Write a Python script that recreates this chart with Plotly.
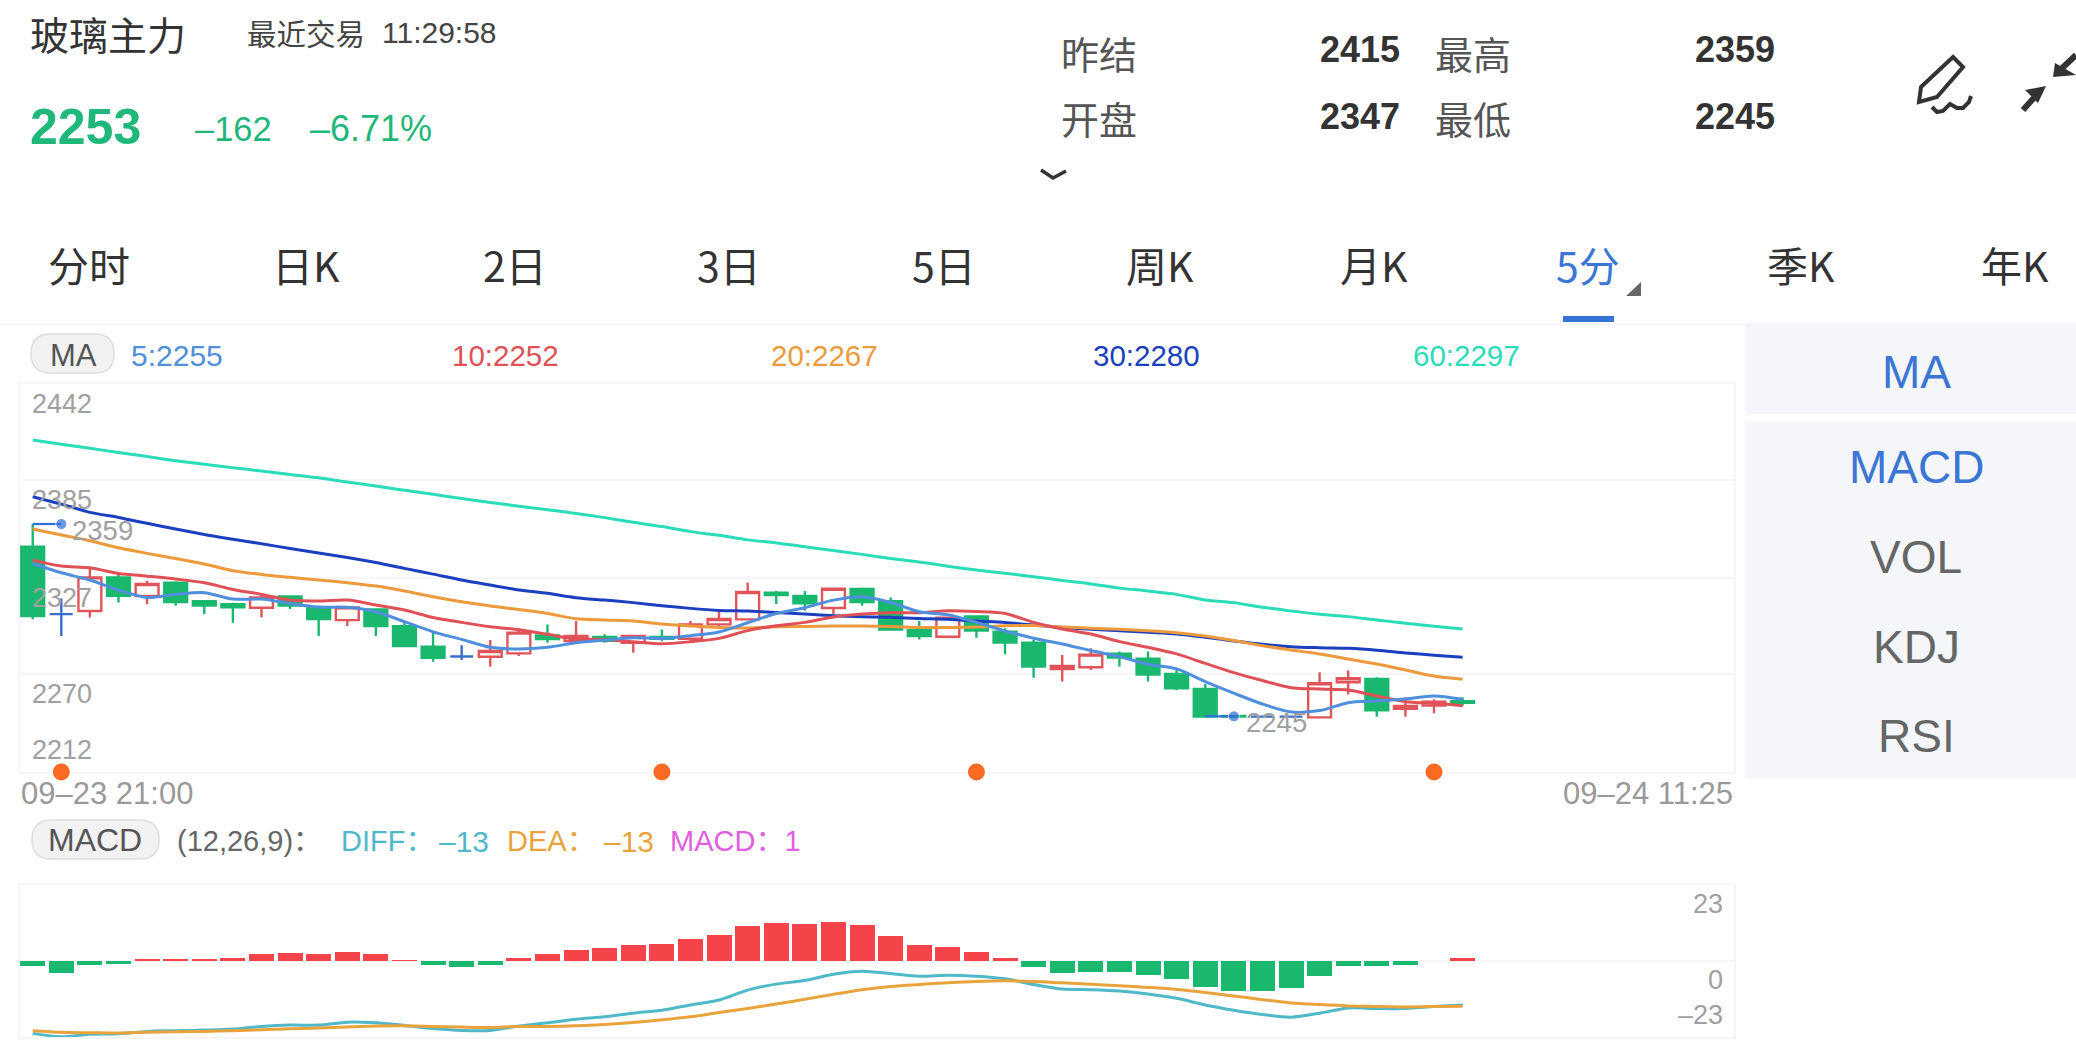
import plotly.graph_objects as go

W, H = 2076, 1053

# ---- data ----
idx = list(range(51))
opens = [2345.5,2305.6,2307.4,2327.4,2316.3,2324.2,2313.3,2311.4,2309.4,2316.1,2309.6,2302,2308.4,2298.5,2286.3,2280.5,2280.3,2282.3,2293,2289.6,2292,2288.6,2292,2291,2299.5,2302.5,2318.3,2316.3,2309.2,2320.5,2313.3,2296.1,2292.2,2304.2,2295.2,2288.7,2273.1,2274.1,2282.2,2279.2,2270.1,2261.2,2245.2,2244.8,2244.8,2244.4,2265.2,2267.2,2249.4,2251.4,2254]
highs = [2359,2314.9,2332.7,2329.3,2325.4,2325,2314,2312.3,2317.9,2316.5,2310.6,2310.4,2309,2301,2294.8,2287.2,2290.2,2297.1,2299.5,2301.5,2293.6,2293.2,2296.5,2301.5,2307.6,2324.4,2319.5,2319.3,2320.6,2321.4,2315.5,2301.5,2304,2304.2,2297.2,2290.3,2281.4,2285.3,2283.4,2283.4,2272.9,2264.2,2245.2,2244.8,2244.8,2271.1,2272.1,2268.1,2256.1,2255.1,2256.3]
lows = [2302.5,2292.6,2303.6,2312.5,2311.5,2310.6,2305.6,2300.5,2303.6,2308.6,2292.6,2298.5,2292.6,2286.7,2277.4,2278.4,2274.4,2280.7,2288.6,2289.6,2288.6,2282.7,2289.6,2289.6,2297.1,2302.5,2311.6,2307.6,2305.6,2310.6,2296.1,2290.6,2291.8,2291.6,2281.8,2267.8,2265.6,2272.5,2274.5,2265.6,2260.6,2244.8,2244.8,2244.8,2244.8,2244.4,2257.9,2244.8,2244.8,2246.8,2251.2]
closes = [2304.4,2305.6,2327.4,2316.5,2323.4,2312.7,2310.6,2309.6,2315.5,2310.6,2302.7,2309.6,2298.5,2286.7,2279.7,2280.5,2283.7,2294.6,2290.8,2292.6,2289.8,2292.6,2291,2299.5,2302.7,2318.7,2316.9,2312,2320.6,2312.7,2296.5,2292.6,2303.5,2295.8,2288.7,2274.5,2274.9,2281.6,2279.8,2269.7,2261.6,2244.8,2244.8,2244.8,2244.8,2264.6,2267.6,2248.6,2251.2,2253.7,2253]

ma5 = [2335.6,2330.1,2325.8,2319.8,2315.5,2317.3,2318.3,2314.5,2314.5,2311.9,2309.8,2309.6,2307,2301.1,2295.1,2290.6,2285.9,2284.9,2285.9,2288.6,2290.2,2291.6,2291.2,2292.8,2295,2300.5,2306,2309.4,2313.9,2315.9,2312.5,2307,2305.2,2300.7,2295.6,2291.3,2287.9,2284,2280.4,2275.9,2273.1,2265.6,2258.7,2252.3,2247.6,2248.4,2253.1,2254.1,2255.3,2257.1,2255.1]
ma10 = [2337.6,2334.1,2333.1,2329.7,2328.1,2326.4,2324.2,2320.2,2317.3,2313.9,2313.3,2313.9,2311,2308,2303.6,2300.7,2298.1,2296.3,2293.6,2290.8,2290.6,2289.2,2288,2289.2,2291.2,2295.8,2298.7,2300.7,2303.9,2305.6,2306.4,2306.4,2307.6,2307.1,2306,2300.7,2296.8,2293.8,2289.3,2285.9,2282,2276.4,2270.9,2266.2,2262,2261.2,2260.6,2257.1,2253.7,2252.7,2251.3]
ma20 = [2356,2352.5,2349.1,2344.9,2341.6,2338.6,2335.3,2331.3,2329.1,2327.4,2325.8,2324.2,2322.2,2319.3,2315.9,2312.9,2310.4,2308.3,2306,2302.9,2302.1,2301.5,2299.7,2298.5,2297.7,2297.3,2298.1,2298.3,2298.5,2298.5,2298.3,2297.7,2297.7,2297.9,2298.7,2298.8,2298,2297.2,2296.6,2295.8,2294.6,2292.6,2289.9,2286.9,2284.3,2282,2279,2276,2272.5,2268.9,2267]
ma30 = [2375.2,2370.8,2365.9,2362.9,2359.4,2356,2352.8,2350,2347.3,2344.5,2341.8,2339.2,2336.2,2332.7,2329.3,2325.8,2322.8,2319.9,2317.9,2315.3,2313.9,2312.4,2310.6,2309,2307.8,2307.4,2306.6,2305.6,2304.6,2304,2303.7,2303,2302.5,2301.5,2300.6,2299.2,2297.6,2296.6,2295.8,2294.8,2293.8,2291.9,2289.7,2287.7,2286.3,2285.7,2285.3,2284.2,2282.6,2281.2,2280]
ma60 = [2408.8,2406.3,2403.9,2401.4,2399,2396.5,2394.4,2392.4,2390.4,2388.4,2386.4,2383.9,2381.5,2379,2376.6,2374.1,2371.8,2369.6,2367.4,2365.3,2362.8,2360,2357.5,2354.5,2352.3,2349.6,2347.8,2345.5,2343.3,2341,2338.6,2336.5,2334,2331.7,2329.8,2327.8,2325.5,2323.5,2321,2319.3,2317.3,2314,2312.4,2309.6,2307.5,2305.5,2304.1,2302.1,2300.2,2298.4,2296.8]

macd = [-1.5,-3.5,-1.2,-0.8,0.7,0.6,0.6,0.9,2.1,2.5,2,2.8,2.1,0.3,-1.2,-1.8,-1.2,0.9,2,3.2,3.8,4.7,5.2,6.6,7.8,10.5,11.6,11.3,11.9,10.8,7.6,4.7,4.3,2.8,1,-1.9,-3.5,-3.4,-3.2,-4.1,-5.4,-8,-9,-9,-8.3,-4.5,-1.4,-1.5,-1.1,0,0.8]
diff = [-21.9,-22.9,-22.2,-22,-21.3,-21.1,-20.9,-20.6,-19.8,-19.4,-19.4,-18.5,-18.7,-19.5,-20.4,-21,-21,-19.7,-18.7,-17.6,-16.9,-15.8,-14.9,-13.3,-11.8,-8.8,-7,-5.9,-4,-3.1,-3.8,-4.6,-4.3,-4.6,-5.4,-7.1,-8.5,-8.7,-9.1,-10,-11.3,-13.3,-14.9,-16.2,-17,-15.8,-14.2,-14.4,-14.4,-13.8,-13.3]
dea = [-21.1,-21.6,-21.7,-21.8,-21.6,-21.4,-21.3,-21.1,-20.8,-20.5,-20.3,-20,-19.7,-19.6,-19.8,-20,-20.1,-19.8,-19.8,-19.6,-19.2,-18.6,-17.8,-16.9,-15.6,-14.4,-13,-11.6,-10.1,-8.7,-7.7,-7.1,-6.6,-6.2,-6,-6.2,-6.6,-7,-7.5,-8,-8.6,-9.5,-10.6,-11.7,-12.7,-13.2,-13.6,-13.8,-13.9,-13.8,-13.7]

price_ticks = [2442, 2385, 2327, 2270, 2212]
macd_ticks = [23, 0, -23]
signal_idx = [1, 22, 33, 49]
high_idx, high_val = 0, 2359
low_idx, low_val = 41, 2245
tabs = ["分时", "日K", "2日", "3日", "5日", "周K", "月K", "5分", "季K", "年K"]
side_items = ["MA", "MACD", "VOL", "KDJ", "RSI"]

# ---- colours ----
UP, DOWN, FLAT = "#e0555a", "#1ab86f", "#3a6fc9"
C5, C10, C20, C30, C60 = "#4f8fdc", "#df5157", "#ec9a3c", "#1a3fbf", "#2adcb8"
CDIFF, CDEA, CMACD = "#4fb8c9", "#e8a33d", "#e060e0"
GRID = "#f6f6f6"
FONT = "Liberation Sans, Noto Sans CJK SC, sans-serif"
CJK = "Noto Sans CJK SC, Liberation Sans, sans-serif"

fig = go.Figure()


def candle(sel, inc, dec, fill):
    fig.add_trace(go.Candlestick(
        x=[idx[i] for i in sel], open=[opens[i] for i in sel], high=[highs[i] for i in sel],
        low=[lows[i] for i in sel], close=[closes[i] for i in sel], whiskerwidth=0,
        increasing=dict(line=dict(color=inc, width=2.4), fillcolor=fill),
        decreasing=dict(line=dict(color=dec, width=2.4), fillcolor=dec),
        showlegend=False, xaxis="x", yaxis="y"))


flat = [i for i in idx if opens[i] == closes[i]]
rest = [i for i in idx if opens[i] != closes[i]]
candle(rest, UP, DOWN, "white")
candle(flat, FLAT, FLAT, FLAT)

for s, c in ((ma60, C60), (ma30, C30), (ma20, C20), (ma10, C10), (ma5, C5)):
    fig.add_trace(go.Scatter(x=idx, y=s, mode="lines", line=dict(color=c, width=3, shape="spline", smoothing=0.8),
                             showlegend=False, xaxis="x", yaxis="y"))

for i0, v in ((high_idx, high_val), (low_idx, low_val)):
    fig.add_trace(go.Scatter(x=[i0, i0 + 1], y=[v, v], mode="lines+markers", line=dict(color="#2f6fd9", width=2.2),
                             marker=dict(color="#2f6fd9", size=[0, 11]), showlegend=False, xaxis="x", yaxis="y"))

fig.add_trace(go.Scatter(x=signal_idx, y=[price_ticks[-1]] * len(signal_idx), mode="markers",
                         marker=dict(color="#fb6a22", size=17), cliponaxis=False, showlegend=False, xaxis="x", yaxis="y"))

fig.add_trace(go.Bar(x=idx, y=macd, width=0.874, marker=dict(color=[("#f54449" if v > 0 else DOWN) for v in macd], line=dict(width=0)),
                     showlegend=False, xaxis="x2", yaxis="y2"))
fig.add_trace(go.Scatter(x=idx, y=diff, mode="lines", line=dict(color=CDIFF, width=3, shape="spline", smoothing=0.8),
                         showlegend=False, xaxis="x2", yaxis="y2"))
fig.add_trace(go.Scatter(x=idx, y=dea, mode="lines", line=dict(color=CDEA, width=3, shape="spline", smoothing=0.8),
                         showlegend=False, xaxis="x2", yaxis="y2"))


def px(x):
    return x / W


def py(y):
    return 1 - y / H


ann = []


def T(text, x, y, size, color, anchor="left", bold=False, font=FONT):
    if bold:
        text = "<b>%s</b>" % text
    ann.append(dict(text=text, x=px(x), y=py(y), xref="paper", yref="paper", xanchor=anchor, yanchor="middle",
                    showarrow=False, font=dict(size=size, color=color, family=font), borderpad=0))


GREEN_TXT = "#1fb87a"
T("玻璃主力", 29, 33, 39, "#333333", font=CJK)
T("最近交易", 246, 32, 29.5, "#444444", font=CJK)
T("11:29:58", 381, 32, 30, "#444444")
T("2253", 29, 127, 50, GREEN_TXT, bold=True)
T("–162", 194, 129, 34.5, GREEN_TXT)
T("–6.71%", 309, 129, 36, GREEN_TXT)
T("昨结", 1060, 52, 38, "#555555", font=CJK)
T("开盘", 1060, 118, 38, "#555555", font=CJK)
T("2415", 1319, 50, 36, "#333333", bold=True)
T("2347", 1319, 116, 36, "#333333", bold=True)
T("最高", 1434, 52, 38, "#555555", font=CJK)
T("最低", 1434, 118, 38, "#555555", font=CJK)
T("2359", 1694, 50, 36, "#333333", bold=True)
T("2245", 1694, 116, 36, "#333333", bold=True)

tab_x = [89, 306, 515, 729, 944, 1160, 1374, 1588, 1801, 2015]
for t, x in zip(tabs, tab_x):
    T(t, x, 264, 41, "#3b76d4" if t == "5分" else "#333333", anchor="center", font=CJK)

side_y = [372, 467, 557, 647, 736]
for t, y in zip(side_items, side_y):
    T(t, 1916, y, 46, "#3b76d4" if t in ("MA", "MACD") else "#666666", anchor="center")

T("MA", 73, 355, 31, "#555555", anchor="center")
T("5:2255", 130, 355, 30, C5)
T("10:2252", 451, 355, 29.5, C10)
T("20:2267", 770, 355, 29.5, C20)
T("30:2280", 1092, 355, 29.5, C30)
T("60:2297", 1412, 355, 29.5, C60)

T("MACD", 95, 840, 32, "#555555", anchor="center")
T("(12,26,9)：", 176, 841, 29, "#666666", font=FONT)
T("DIFF：", 340, 841, 29, CDIFF)
T("–13", 438, 841, 30, CDIFF)
T("DEA：", 506, 841, 29, CDEA)
T("–13", 603, 841, 30, CDEA)
T("MACD：1", 669, 841, 29, CMACD)

T("09–23 21:00", 20, 793, 31, "#999999")
T("09–24 11:25", 1734, 793, 31, "#999999", anchor="right")

for i, v in enumerate(price_ticks):
    last = i == len(price_ticks) - 1
    ann.append(dict(text=str(v), x=px(31), y=v, xref="paper", yref="y", xanchor="left", yanchor="bottom" if last else "top",
                    yshift=6 if last else -4, showarrow=False, font=dict(size=27, color="#a0a0a0", family=FONT), borderpad=0))
for i, v in enumerate(macd_ticks):
    last = i == len(macd_ticks) - 1
    ann.append(dict(text=str(v).replace("-", "–"), x=px(1724), y=v, xref="paper", yref="y2", xanchor="right",
                    yanchor="bottom" if last else "top", yshift=6 if last else -3, showarrow=False,
                    font=dict(size=27, color="#a0a0a0", family=FONT), borderpad=0))
ann.append(dict(text=str(high_val), x=high_idx + 1, y=high_val, xref="x", yref="y", xanchor="left", yanchor="middle",
                xshift=10, yshift=-6, showarrow=False, font=dict(size=27.5, color="#a0a0a0", family=FONT), borderpad=0))
ann.append(dict(text=str(low_val), x=low_idx + 1, y=low_val, xref="x", yref="y", xanchor="left", yanchor="middle",
                xshift=11, yshift=-6, showarrow=False, font=dict(size=27.5, color="#a0a0a0", family=FONT), borderpad=0))

shapes = []


def R(x0, y0, x1, y1, fill, line=None, layer="below"):
    shapes.append(dict(type="rect", xref="paper", yref="paper", x0=px(x0), x1=px(x1), y0=py(y0), y1=py(y1),
                       fillcolor=fill, line=dict(width=0 if not line else 1.5, color=line or fill), layer=layer))


def P(points, color, width=0, fill=None, close=False):
    d = "M " + " L ".join("%.5f,%.5f" % (px(a), py(b)) for a, b in points) + (" Z" if close else "")
    shapes.append(dict(type="path", xref="paper", yref="paper", path=d, fillcolor=fill or "rgba(0,0,0,0)",
                       line=dict(color=color, width=width), layer="above"))


def pill(x0, y0, x1, y1):
    r = (y1 - y0) / 2
    xc0, xc1 = x0 + r, x1 - r
    d = "M %.5f,%.5f L %.5f,%.5f Q %.5f,%.5f %.5f,%.5f Q %.5f,%.5f %.5f,%.5f L %.5f,%.5f Q %.5f,%.5f %.5f,%.5f Q %.5f,%.5f %.5f,%.5f Z" % (
        px(xc0), py(y0), px(xc1), py(y0), px(x1), py(y0), px(x1), py(y0 + r), px(x1), py(y1), px(xc1), py(y1),
        px(xc0), py(y1), px(x0), py(y1), px(x0), py(y0 + r), px(x0), py(y0), px(xc0), py(y0))
    shapes.append(dict(type="path", xref="paper", yref="paper", path=d, fillcolor="#f2f2f2",
                       line=dict(color="#dddddd", width=1.5), layer="below"))


R(0, 323, 1745, 326, "#f7f7f7")
R(1745, 323, 2076, 414, "#f4f6f9")
R(1745, 421, 2076, 778, "#f4f6f9")
R(1563, 316, 1614, 322, "#3574d6")
P([(1641, 282), (1641, 296), (1626, 296)], "#666666", 0, "#666666", True)
P([(1041, 170), (1053, 178), (1066, 171)], "#333333", 3.5)
P([(1953, 57), (1963, 67), (1937, 97), (1919, 102), (1921, 87)], "#333333", 4, None, True)
P([(1932, 107), (1937, 112), (1943, 111), (1950, 104), (1957, 108), (1963, 108), (1969, 102), (1971, 96)], "#333333", 4)
P([(2023, 110), (2041, 90)], "#333333", 6)
P([(2046, 86), (2025, 90), (2038, 103)], "#333333", 0, "#333333", True)
P([(2076, 55), (2058, 72)], "#333333", 6)
P([(2053, 77), (2055, 63), (2076, 75)], "#333333", 0, "#333333", True)
pill(31, 334, 114, 373)
pill(32, 820, 159, 859)

axis_common = dict(showline=True, linecolor=GRID, linewidth=1.5, mirror=True, zeroline=False, fixedrange=True, layer="below traces")
xr = [-0.444, 59.49]
xdom = [20 / W, 1734 / W]
fig.update_layout(
    width=W, height=H, margin=dict(l=0, r=0, t=0, b=0), paper_bgcolor="white", plot_bgcolor="white",
    showlegend=False, bargap=0, boxgap=0.2, boxgroupgap=0, boxmode="overlay", annotations=ann, shapes=shapes,
    xaxis=dict(domain=xdom, range=xr, showgrid=False, showticklabels=False, ticks="", rangeslider=dict(visible=False), anchor="y", **axis_common),
    yaxis=dict(domain=[1 - 772 / H, 1 - 384 / H], range=[price_ticks[-1], price_ticks[0]], tickvals=price_ticks, showticklabels=False,
               ticks="", showgrid=True, gridcolor=GRID, gridwidth=1.5, anchor="x", **axis_common),
    xaxis2=dict(domain=xdom, range=xr, showgrid=False, showticklabels=False, ticks="", anchor="y2", **axis_common),
    yaxis2=dict(domain=[1 - 1037 / H, 1 - 885 / H], range=[macd_ticks[-1], macd_ticks[0]], tickvals=macd_ticks[1:2], showticklabels=False,
                ticks="", showgrid=True, gridcolor=GRID, gridwidth=1.5, anchor="x2", **axis_common),
)

fig.write_html("out.html", config={"displayModeBar": False},
               post_script="document.body.style.margin='0';document.body.style.overflow='hidden';")
